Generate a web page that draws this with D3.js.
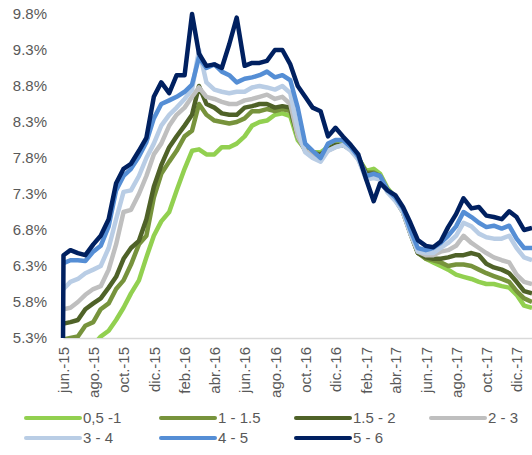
<!DOCTYPE html>
<html>
<head>
<meta charset="utf-8">
<script src="https://cdn.jsdelivr.net/npm/d3@7"></script>
<style>
  body { margin: 0; background: #fff; }
  svg { display: block; font-family: Arial, "Liberation Sans", sans-serif; }
</style>
</head>
<body>
<div id="chart"></div>
<script>
// semi-monthly readings, first two points are the series start
const dates = [
  "2015-06-01","2015-06-02","2015-06-16","2015-07-01","2015-07-16","2015-08-01","2015-08-16","2015-09-01","2015-09-16",
  "2015-10-01","2015-10-16","2015-11-01","2015-11-16","2015-12-01","2015-12-16","2016-01-01","2016-01-16",
  "2016-02-01","2016-02-16","2016-03-01","2016-03-16","2016-04-01","2016-04-16","2016-05-01","2016-05-16",
  "2016-06-01","2016-06-16","2016-07-01","2016-07-16","2016-08-01","2016-08-16","2016-09-01","2016-09-16",
  "2016-10-01","2016-10-16","2016-11-01","2016-11-16","2016-12-01","2016-12-16","2017-01-01","2017-01-16",
  "2017-02-01","2017-02-16","2017-03-01","2017-03-16","2017-04-01","2017-04-16","2017-05-01","2017-05-16",
  "2017-06-01","2017-06-16","2017-07-01","2017-07-16","2017-08-01","2017-08-16","2017-09-01","2017-09-16",
  "2017-10-01","2017-10-16","2017-11-01","2017-11-16","2017-12-01","2017-12-16","2018-01-01"
];

const s05_1 = [4.90,4.90,4.98,5.05,5.12,5.20,5.32,5.40,5.55,5.72,5.92,6.10,6.42,6.72,6.92,7.05,7.35,7.65,7.90,7.92,7.85,7.85,7.95,7.95,8.00,8.10,8.25,8.30,8.32,8.40,8.42,8.38,8.05,7.92,7.88,7.88,7.95,8.00,7.98,7.92,7.80,7.62,7.65,7.58,7.38,7.25,7.08,6.78,6.50,6.40,6.35,6.30,6.25,6.18,6.15,6.12,6.08,6.05,6.05,6.02,6.00,5.90,5.75,5.72];
const s1_15 = [5.28,5.28,5.30,5.32,5.47,5.52,5.70,5.78,5.98,6.10,6.32,6.60,6.72,7.25,7.58,7.75,7.90,8.10,8.18,8.55,8.40,8.32,8.30,8.28,8.30,8.35,8.45,8.45,8.48,8.45,8.48,8.45,8.10,7.92,7.88,7.85,7.92,7.98,7.98,7.92,7.80,7.60,7.60,7.55,7.35,7.22,7.05,6.75,6.48,6.40,6.38,6.35,6.30,6.32,6.32,6.30,6.25,6.20,6.16,6.12,6.08,5.95,5.85,5.80];
const s15_2 = [5.50,5.50,5.52,5.55,5.70,5.78,5.85,6.00,6.15,6.40,6.55,6.65,6.95,7.40,7.70,7.95,8.10,8.25,8.40,8.80,8.55,8.50,8.42,8.40,8.40,8.50,8.52,8.55,8.55,8.50,8.52,8.50,8.10,7.90,7.85,7.85,7.92,7.98,7.98,7.92,7.80,7.58,7.58,7.55,7.35,7.22,7.05,6.75,6.48,6.42,6.40,6.40,6.42,6.45,6.45,6.48,6.45,6.33,6.28,6.25,6.20,6.08,5.95,5.92];
const s2_3 = [5.70,5.70,5.72,5.80,5.90,5.98,6.02,6.25,6.60,7.05,7.08,7.30,7.55,7.85,8.00,8.25,8.40,8.50,8.65,8.78,8.65,8.62,8.58,8.55,8.55,8.60,8.62,8.65,8.68,8.62,8.65,8.55,8.10,7.90,7.85,7.82,7.90,7.95,7.98,7.92,7.78,7.55,7.55,7.55,7.35,7.22,7.05,6.75,6.50,6.45,6.45,6.50,6.52,6.58,6.72,6.62,6.55,6.48,6.42,6.38,6.35,6.18,6.08,6.05];
const s3_4 = [5.98,5.98,6.08,6.12,6.20,6.25,6.30,6.55,6.95,7.33,7.35,7.55,7.80,8.00,8.25,8.40,8.50,8.62,8.75,9.30,8.85,8.75,8.72,8.70,8.72,8.72,8.78,8.80,8.78,8.75,8.80,8.70,8.20,7.88,7.80,7.75,7.90,7.95,7.98,7.90,7.78,7.50,7.52,7.50,7.32,7.20,7.05,6.75,6.50,6.48,6.48,6.55,6.62,6.72,6.90,6.85,6.75,6.70,6.68,6.68,6.72,6.55,6.42,6.38];
const s4_5 = [6.34,6.34,6.38,6.38,6.37,6.50,6.58,6.85,7.35,7.55,7.65,7.82,8.02,8.35,8.55,8.60,8.65,8.72,8.82,9.20,9.05,9.10,9.00,8.95,8.85,8.90,8.92,8.95,9.00,8.92,8.95,8.88,8.50,8.00,7.90,7.80,8.00,8.05,8.05,7.95,7.82,7.55,7.58,7.55,7.35,7.25,7.10,6.80,6.55,6.52,6.55,6.62,6.72,6.85,7.05,6.98,6.90,6.84,6.86,6.82,6.86,6.68,6.55,6.55];
const s5_6 = [5.20,6.45,6.52,6.48,6.45,6.60,6.72,6.95,7.45,7.65,7.72,7.90,8.08,8.65,8.85,8.70,8.95,8.95,9.80,9.25,9.08,9.10,9.05,9.38,9.75,9.08,9.12,9.12,9.15,9.30,9.30,9.10,8.80,8.65,8.50,8.45,8.10,8.22,8.10,7.98,7.85,7.50,7.20,7.45,7.35,7.28,7.12,6.90,6.66,6.58,6.56,6.64,6.84,7.02,7.24,7.10,7.12,7.00,6.98,6.95,7.06,6.98,6.80,6.83];

const seriesNames = ["0,5 -1", "1 - 1.5", "1.5 - 2", "2 - 3", "3 - 4", "4 - 5", "5 - 6"];
const seriesValues = [s05_1, s1_15, s15_2, s2_3, s3_4, s4_5, s5_6];
const colors = ["#92d050", "#77933c", "#4f6228", "#bfbfbf", "#b9cde5", "#558ed5", "#002060"];

const yTicks = [5.3, 5.8, 6.3, 6.8, 7.3, 7.8, 8.3, 8.8, 9.3, 9.8];
const xTickDates = ["2015-06-01","2015-08-01","2015-10-01","2015-12-01","2016-02-01","2016-04-01","2016-06-01","2016-08-01",
  "2016-10-01","2016-12-01","2017-02-01","2017-04-01","2017-06-01","2017-08-01","2017-10-01","2017-12-01"];
const xTickLabels = ["jun.-15","ago.-15","oct.-15","dic.-15","feb.-16","abr.-16","jun.-16","ago.-16",
  "oct.-16","dic.-16","feb.-17","abr.-17","jun.-17","ago.-17","oct.-17","dic.-17"];

const width = 532, height = 455;
const margin = {top: 14, left: 63, bottom: 338, right: 532};
const parse = d3.timeParse("%Y-%m-%d");

const svg = d3.select("#chart").append("svg")
  .attr("width", width)
  .attr("height", height);

const x = d3.scaleTime()
  .domain([parse("2015-06-01"), parse("2018-01-01")])
  .range([margin.left, margin.right]);

const y = d3.scaleLinear()
  .domain([5.3, 9.8])
  .range([margin.bottom, margin.top]);

svg.append("clipPath").attr("id", "plot-clip")
  .append("rect")
  .attr("x", margin.left - 5).attr("y", 0)
  .attr("width", width).attr("height", margin.bottom);

// y axis labels only
const yAxis = svg.append("g")
  .attr("transform", "translate(" + margin.left + ",0)")
  .call(d3.axisLeft(y).tickValues(yTicks).tickSize(0).tickPadding(16).tickFormat(d => d.toFixed(1) + "%"));
yAxis.select(".domain").remove();
yAxis.selectAll("text").attr("fill", "#595959").style("font-size", "15px");

// x axis
const xAxis = svg.append("g")
  .attr("transform", "translate(0," + margin.bottom + ")")
  .call(d3.axisBottom(x).tickValues(xTickDates.map(parse)).tickSize(0)
    .tickFormat((d, i) => xTickLabels[i]));
xAxis.select(".domain").attr("stroke", "#d9d9d9").attr("stroke-width", 1.5);
xAxis.selectAll("text")
  .attr("transform", "rotate(-90)")
  .attr("x", -9).attr("y", 0).attr("dy", "0.35em")
  .attr("text-anchor", "end")
  .attr("fill", "#595959")
  .style("font-size", "15px");

const line = d3.line()
  .x((d, i) => x(parse(dates[i])))
  .y(d => y(d));

svg.append("g")
  .attr("clip-path", "url(#plot-clip)")
  .selectAll("path")
  .data(seriesValues)
  .enter()
  .append("path")
    .attr("d", d => line(d))
    .attr("fill", "none")
    .attr("stroke", (d, i) => colors[i])
    .attr("stroke-width", 4.5)
    .attr("stroke-linejoin", "round");

// legend, 4 per row
const legend = svg.append("g")
  .selectAll("g")
  .data(seriesNames)
  .enter()
  .append("g")
    .attr("transform", (d, i) => "translate(" + (26 + (i % 4) * 135) + "," + (418 + Math.floor(i / 4) * 20) + ")");

legend.append("line")
  .attr("x1", 0).attr("x2", 54)
  .attr("stroke", (d, i) => colors[i])
  .attr("stroke-width", 4)
  .attr("stroke-linecap", "round");

legend.append("text")
  .attr("x", 57).attr("dy", "0.35em")
  .attr("fill", "#595959")
  .style("font-size", "15px")
  .text(d => d);
</script>
</body>
</html>
